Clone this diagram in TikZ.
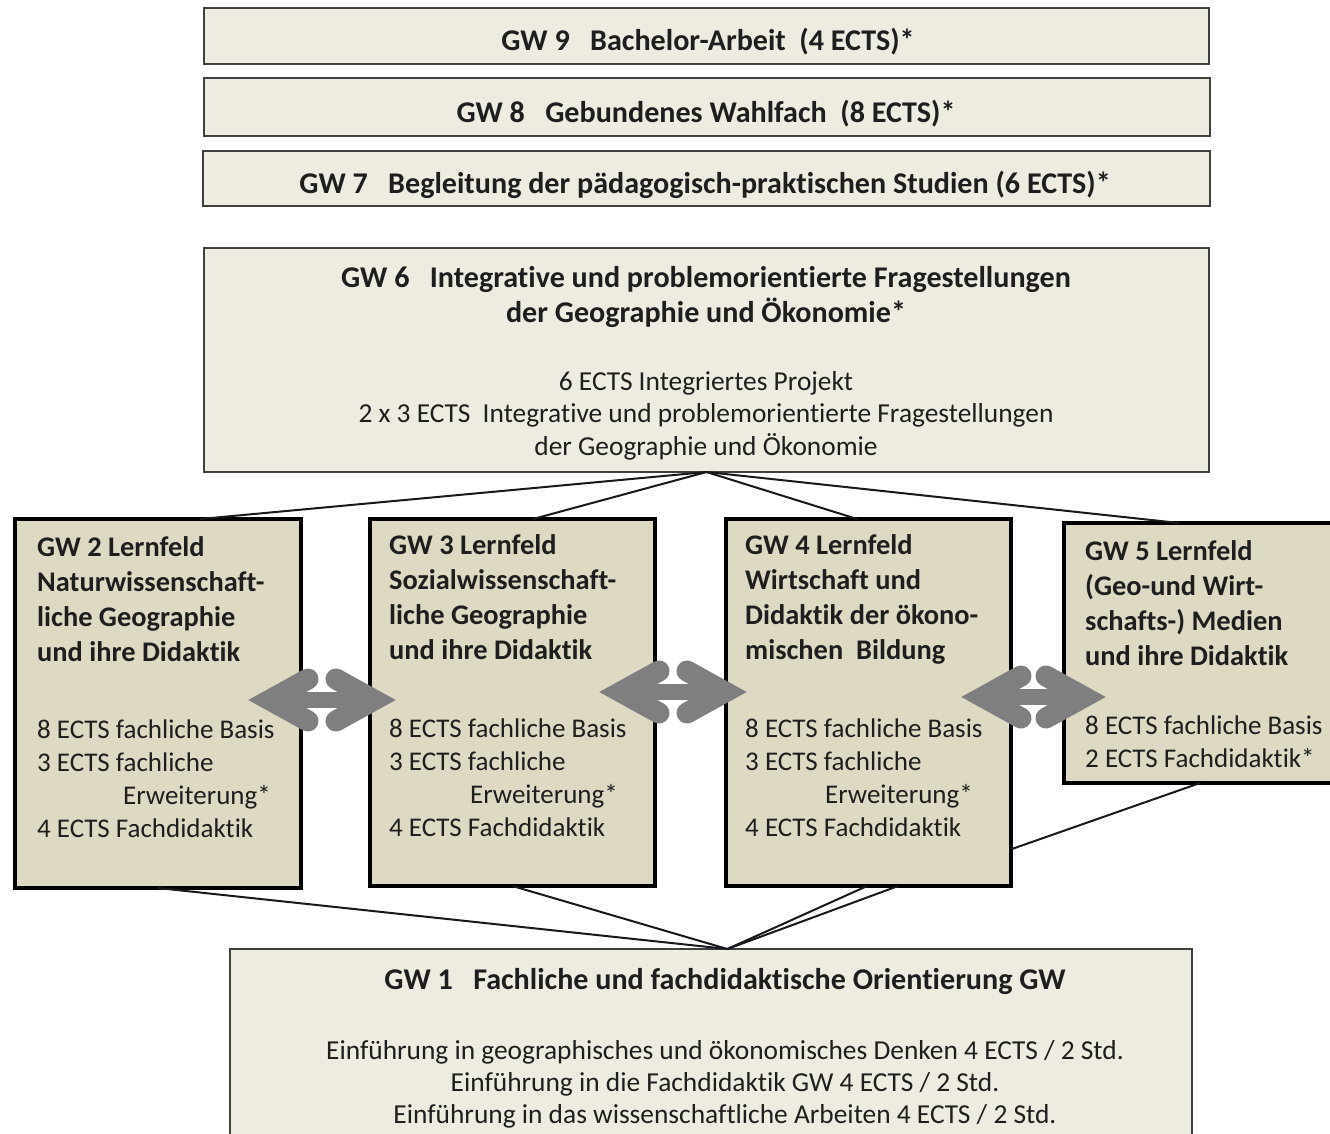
\documentclass[tikz,border=0pt]{standalone}
\usepackage{fontspec}
\setmainfont{Carlito}[Ligatures=NoCommon]
\usetikzlibrary{calc}
\definecolor{lightfill}{HTML}{EEECE1}
\definecolor{darkfill}{HTML}{DDD9C3}
\definecolor{arrowgray}{HTML}{7F7F7F}
\definecolor{txtcol}{HTML}{1E1E1E}
\newcommand\gwbold{\fontsize{28.4}{35}\selectfont\bfseries}
\newcommand\gwtitle{\fontsize{30.1}{35}\selectfont\bfseries}
\newcommand\gwreg{\fontsize{27}{33}\selectfont}
\newcommand\gwregb{\fontsize{27.4}{32.5}\selectfont}
\newcommand\gwarrow[3]{%
  \draw[arrowbar] ({#1+22},#3) -- ({#2-22},#3);
  \draw[arrowhead] ({#1+61},{#3-21}) -- ({#1+23},#3) -- ({#1+61},{#3+21});
  \draw[arrowhead] ({#2-61},{#3-21}) -- ({#2-23},#3) -- ({#2-61},{#3+21});
}
\begin{document}
\begin{tikzpicture}[x=1pt,y=-1pt,
  lightbox/.style={draw=black!75, line width=2pt, fill=lightfill, inner sep=0pt, outer sep=0pt, anchor=north west},
  fieldbox/.style={draw=black, line width=4.5pt, fill=darkfill, inner sep=0pt, outer sep=0pt, anchor=north west},
  conn/.style={draw=black!90, line width=2pt},
  arrowbar/.style={draw=arrowgray, line width=16pt},
  arrowhead/.style={draw=arrowgray, line width=21pt, line cap=round, line join=miter},
  boldtext/.style={font=\gwbold, text=txtcol, inner sep=0pt},
  titletext/.style={font=\gwtitle, text=txtcol, inner sep=0pt},
  regtext/.style={font=\gwreg, text=txtcol, inner sep=0pt},
]
\useasboundingbox (0,0) rectangle (1330,1133);
\fill[white] (0,0) rectangle (1330,1133);

% boxes
\node[lightbox, minimum width=1005pt, minimum height=56pt] (gw9) at (204,8) {};
\node[lightbox, minimum width=1006pt, minimum height=58pt] (gw8) at (204,78) {};
\node[lightbox, minimum width=1007pt, minimum height=55pt] (gw7) at (203,151) {};
\node[lightbox, minimum width=1005pt, minimum height=224pt] (gw6) at (204,248) {};
\node[fieldbox, minimum width=286pt, minimum height=369pt] (gw2) at (15,519) {};
\node[fieldbox, minimum width=285pt, minimum height=367pt] (gw3) at (370,519) {};
\node[fieldbox, minimum width=285pt, minimum height=367pt] (gw4) at (726,519) {};
\node[fieldbox, minimum width=272pt, minimum height=260pt] (gw5) at (1064,523) {};
\node[lightbox, minimum width=962pt, minimum height=200pt] (gw1) at (230,949) {};

% texts of top boxes
\node[titletext, anchor=base] (t9) at (708,50) {GW 9\ \ \ Bachelor-Arbeit\ \ (4 ECTS)*};
\node[titletext, anchor=base] (t8) at (706,122) {GW 8\ \ \ Gebundenes Wahlfach\ \ (8 ECTS)*};
\node[titletext, anchor=base] (t7) at (705,193) {GW 7\ \ \ Begleitung der pädagogisch-praktischen Studien (6 ECTS)*};
\node[titletext, anchor=north, align=center] (t6) at (706,262) {\rule{0pt}{25pt}GW 6\ \ \ Integrative und problemorientierte Fragestellungen\\der Geographie und Ökonomie*};
\node[regtext, font=\gwregb, anchor=north, align=center] (b6) at (706,366) {\rule{0pt}{24pt}6 ECTS Integriertes Projekt\\2 x 3 ECTS\ \ Integrative und problemorientierte Fragestellungen\\der Geographie und Ökonomie};

% Lernfeld texts
\node[boldtext, anchor=north west, align=left] (h2) at (37,531.5) {\rule{0pt}{25pt}GW 2 Lernfeld\\Naturwissenschaft-\\liche Geographie\\und ihre Didaktik};
\node[regtext, anchor=north west, align=left] (e2) at (37,714) {\rule{0pt}{24pt}8 ECTS fachliche Basis\\3 ECTS fachliche\\\hspace*{86pt}Erweiterung*\\4 ECTS Fachdidaktik};
\node[boldtext, anchor=north west, align=left] (h3) at (389,529.5) {\rule{0pt}{25pt}GW 3 Lernfeld\\Sozialwissenschaft-\\liche Geographie\\und ihre Didaktik};
\node[regtext, anchor=north west, align=left] (e3) at (389,713) {\rule{0pt}{24pt}8 ECTS fachliche Basis\\3 ECTS fachliche\\\hspace*{81pt}Erweiterung*\\4 ECTS Fachdidaktik};
\node[boldtext, anchor=north west, align=left] (h4) at (745,529.5) {\rule{0pt}{25pt}GW 4 Lernfeld\\Wirtschaft und\\Didaktik der ökono-\\mischen\ \ Bildung};
\node[regtext, anchor=north west, align=left] (e4) at (745,713) {\rule{0pt}{24pt}8 ECTS fachliche Basis\\3 ECTS fachliche\\\hspace*{80pt}Erweiterung*\\4 ECTS Fachdidaktik};
\node[boldtext, anchor=north west, align=left] (h5) at (1085,535.5) {\rule{0pt}{25pt}GW 5 Lernfeld\\(Geo-und Wirt-\\schafts-) Medien\\und ihre Didaktik};
\node[regtext, anchor=north west, align=left] (e5) at (1085,710) {\rule{0pt}{24pt}8 ECTS fachliche Basis\\2 ECTS Fachdidaktik*};

% GW1 texts
\node[titletext, anchor=base] (t1) at (725,989.5) {GW 1\ \ \ Fachliche und fachdidaktische Orientierung GW};
\node[regtext, font=\fontsize{27.4}{32}\selectfont, anchor=north, align=center] (b1) at (725,1035) {\rule{0pt}{24pt}Einführung in geographisches und ökonomisches Denken 4 ECTS / 2 Std.\\Einführung in die Fachdidaktik GW 4 ECTS / 2 Std.\\Einführung in das wissenschaftliche Arbeiten 4 ECTS / 2 Std.};

% connectors from GW6
\draw[conn] (gw6.south) -- ($(gw2.north west)!0.647!(gw2.north east)$);
\draw[conn] (gw6.south) -- ($(gw3.north west)!0.572!(gw3.north east)$);
\draw[conn] (gw6.south) -- ($(gw4.north west)!0.46!(gw4.north east)$);
\draw[conn] (gw6.south) -- ($(gw5.north west)!0.423!(gw5.north east)$);

% connectors to GW1
\coordinate (j1) at ($(gw1.north west)!0.517!(gw1.north east)$);
\draw[conn] (gw2.south) -- (j1);
\draw[conn] (gw3.south) -- (j1);
\draw[conn] ($(gw4.south west)!0.495!(gw4.south east)$) -- (j1);
\draw[conn] ($(gw4.south west)!0.604!(gw4.south east)$) -- (j1);
\draw[conn] ($(gw4.north east)!0.90!(gw4.south east)$) -- ($(gw5.south west)!0.5!(gw5.south east)$);

% double arrows
\gwarrow{247}{397}{700}
\gwarrow{598}{748}{692}
\gwarrow{960}{1107}{697}
\end{tikzpicture}
\end{document}
